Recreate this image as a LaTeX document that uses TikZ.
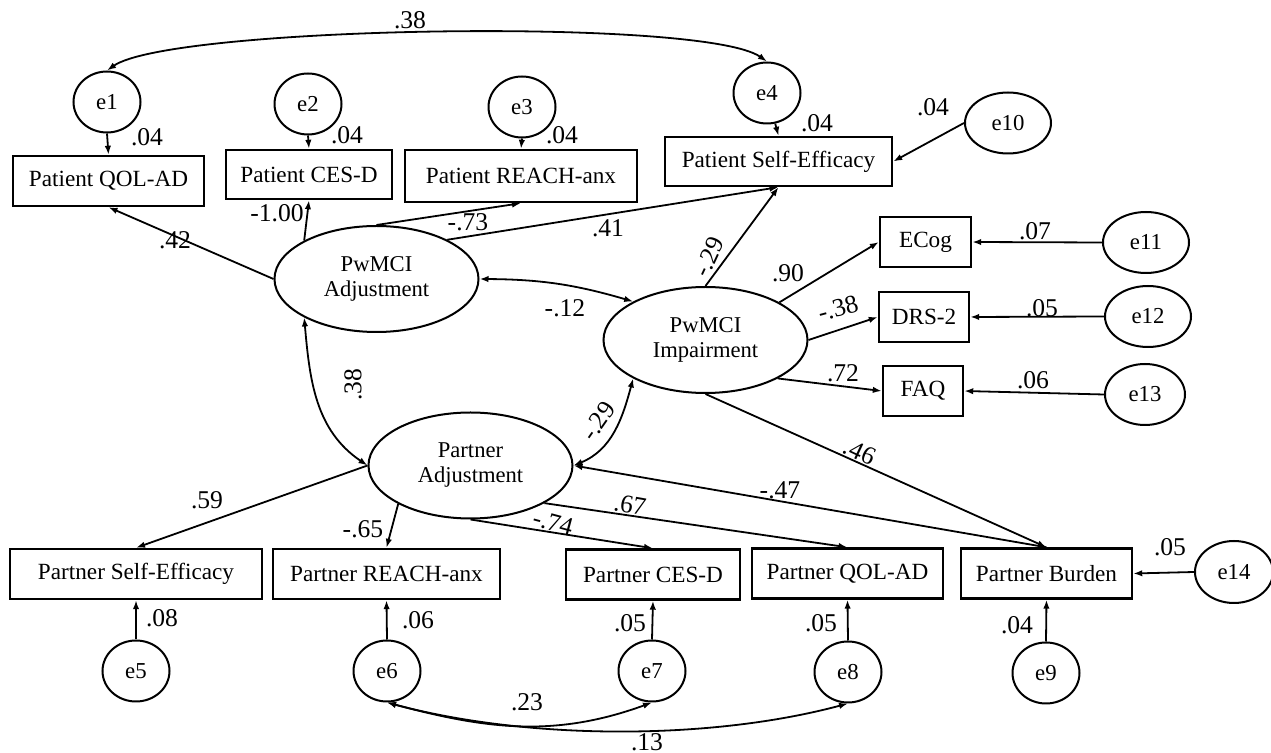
\documentclass[tikz,border=0pt]{standalone}
\usepackage{fontspec}
\setmainfont{Liberation Serif}
\usetikzlibrary{shapes.geometric,arrows.meta}
\begin{document}
\begin{tikzpicture}[x=0.5pt,y=0.5pt,
  box/.style={draw,line width=1.2pt,inner sep=0pt,minimum height=25pt,font=\fontsize{11.6}{13}\selectfont},
  err/.style={draw,ellipse,line width=1pt,inner sep=0pt,minimum width=33.5pt,minimum height=30.5pt,font=\fontsize{11.4}{12}\selectfont},
  errw/.style={err,minimum width=43pt},
  lat/.style={draw,ellipse,line width=1pt,inner sep=0pt,minimum width=102pt,minimum height=53pt,align=center,font=\fontsize{11.3}{12.5}\selectfont},
  pth/.style={line width=0.9pt,-{Latex[length=4.5pt,width=3.2pt]}},
  cov/.style={line width=0.9pt,{Latex[length=4.5pt,width=3.2pt]}-{Latex[length=4.5pt,width=3.2pt]}},
  lab/.style={font=\fontsize{12.8}{14}\selectfont,inner sep=0pt}
]
\useasboundingbox (0,0) rectangle (1271,-753);

% top row
\node[err] (e1) at (107,-102) {e1};
\node[err] (e2) at (308,-104) {e2};
\node[err] (e3) at (522,-107) {e3};
\node[err] (e4) at (767,-93) {e4};
\node[errw] (e10) at (1008,-123) {e10};
\node[box,minimum width=95.5pt] (qol) at (108.5,-181) {Patient QOL-AD};
\node[box,minimum width=83pt,minimum height=24.5pt] (ces) at (309,-174.5) {Patient CES-D};
\node[box,minimum width=116pt,minimum height=26pt] (reach) at (521,-176) {Patient REACH-anx};
\node[box,minimum width=113.5pt,minimum height=24.5pt] (pse) at (778.5,-161.5) {Patient Self-Efficacy};

% latent
\node[lat] (padj) at (376.5,-279) {PwMCI\\Adjustment};
\node[lat] (pimp) at (705.5,-340) {PwMCI\\Impairment};
\node[lat] (partadj) at (470.5,-465.5) {Partner\\Adjustment};

% right side
\node[box,minimum width=45.5pt] (ecog) at (925.5,-242) {ECog};
\node[box,minimum width=45pt] (drs) at (924,-317) {DRS-2};
\node[box,minimum width=40pt] (faq) at (923,-391) {FAQ};
\node[errw] (e11) at (1146,-242.5) {e11};
\node[errw] (e12) at (1148,-316.5) {e12};
\node[err,minimum width=40pt] (e13) at (1145,-394.5) {e13};

% bottom row
\node[box,minimum width=126pt] (ppse) at (136,-574) {Partner Self-Efficacy};
\node[box,minimum width=113.5pt] (preach) at (386.5,-574) {Partner REACH-anx};
\node[box,minimum width=87pt] (pces) at (653,-574.5) {Partner CES-D};
\node[box,minimum width=95.5pt] (pqol) at (847.5,-573.5) {Partner QOL-AD};
\node[box,minimum width=85.5pt] (pburden) at (1046.5,-573.5) {Partner Burden};
\node[err,minimum width=39pt,minimum height=31pt] (e14) at (1234,-572) {e14};
\node[err] (e5) at (136,-671) {e5};
\node[err] (e6) at (387,-671) {e6};
\node[err] (e7) at (652,-671) {e7};
\node[err] (e8) at (848,-672) {e8};
\node[err] (e9) at (1046,-673) {e9};

% error paths
\draw[pth] (e1.south) -- (qol.north);
\draw[pth] (e2.south) -- (ces.north);
\draw[pth] (e3.south) -- (reach.north);
\draw[pth] (e4) -- (pse.north);
\draw[pth] (e10.west) -- (pse.east);
\draw[pth] (e11.west) -- (ecog.east);
\draw[pth] (e12.west) -- (drs.east);
\draw[pth] (e13.west) -- (faq.east);
\draw[pth] (e14.west) -- (pburden.east);
\draw[pth] (e5.north) -- (ppse.south);
\draw[pth] (e6.north) -- (preach.south);
\draw[pth] (e7.north) -- (pces.south);
\draw[pth] (e8.north) -- (pqol.south);
\draw[pth] (e9.north) -- (pburden.south);

% structural paths
\draw[pth] (padj.west) -- (qol.south);
\draw[pth] (padj.152) -- (ces.south);
\draw[pth] (padj.north) -- (reach.south);
\draw[pth] (padj.29) -- (pse.south);
\draw[pth] (pimp.north) -- (pse.south);
\draw[pth] (pimp.27) -- (ecog.west);
\draw[pth] (pimp.east) -- (drs.west);
\draw[pth] (pimp.-28) -- (faq.west);
\draw[pth] (pimp.south) -- (pburden.north);
\draw[pth] (pburden.north) -- (partadj.east);
\draw[pth] (partadj.west) -- (ppse.north);
\draw[pth] (partadj.208) -- (preach.north);
\draw[pth] (partadj.south) -- (pces.north);
\draw[pth] (partadj.-27) -- (pqol.north);

% covariances
\draw[cov] (e1.north) to[out=35,in=145,looseness=0.3] (e4.north);
\draw[cov] (padj.east) to[bend left=8] (pimp.152);
\draw[cov] (padj.208) to[out=-85,in=146] (partadj.west);
\draw[cov] (partadj.east) to[out=22,in=-105] (pimp.208);
\draw[cov] (e6.south) to[out=-15,in=-160] (e7.south);
\draw[cov] (e6.south) to[out=-15,in=-165,looseness=0.8] (e8.south);

% labels
\node[lab] (l1) at (410,-20) {.38};
\node[lab] (l2) at (147,-137) {.04};
\node[lab] (l3) at (347,-135) {.04};
\node[lab] (l4) at (562,-135) {.04};
\node[lab] (l5) at (817,-123) {.04};
\node[lab] (l6) at (933,-107) {.04};
\node[lab] (l7) at (175,-240) {.42};
\node[lab] (l8) at (277,-213) {-1.00};
\node[lab] (l9) at (468,-222) {-.73};
\node[lab] (l10) at (608,-228) {.41};
\node[lab,rotate=65] (l11) at (709,-257) {-.29};
\node[lab] (l12) at (788,-273) {.90};
\node[lab,rotate=15] (l13) at (838,-308) {-.38};
\node[lab] (l14) at (843,-373) {.72};
\node[lab] (l15) at (1035,-231) {.07};
\node[lab] (l16) at (1042,-308) {.05};
\node[lab] (l17) at (1033,-380) {.06};
\node[lab] (l18) at (565,-308) {-.12};
\node[lab,rotate=90] (l19) at (353,-385) {.38};
\node[lab,rotate=55] (l20) at (598,-421) {-.29};
\node[lab,rotate=-25] (l21) at (860,-452) {.46};
\node[lab] (l22) at (780,-490) {-.47};
\node[lab] (l23) at (207,-500) {.59};
\node[lab] (l24) at (363,-529) {-.65};
\node[lab,rotate=-15] (l25) at (553,-523) {-.74};
\node[lab,rotate=-10] (l26) at (630,-505) {.67};
\node[lab] (l27) at (1170,-547) {.05};
\node[lab] (l28) at (162,-618) {.08};
\node[lab] (l29) at (418,-620) {.06};
\node[lab] (l30) at (630,-623) {.05};
\node[lab] (l31) at (821,-623) {.05};
\node[lab] (l32) at (1017,-625) {.04};
\node[lab] (l33) at (527,-702) {.23};
\node[lab] (l34) at (647,-742) {.13};
\end{tikzpicture}
\end{document}
